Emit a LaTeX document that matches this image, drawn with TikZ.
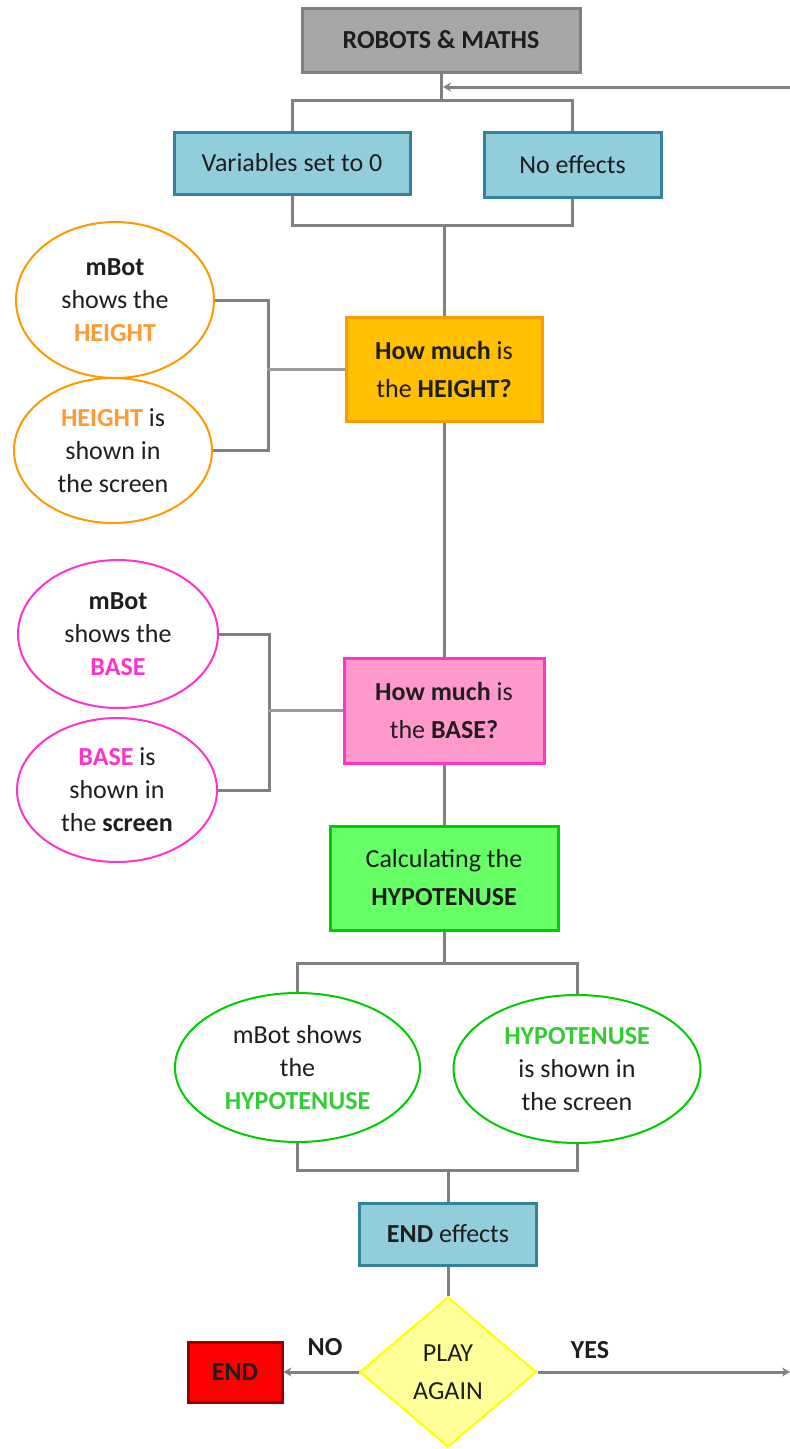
\documentclass[tikz,border=0pt]{standalone}
\usepackage{fontspec}
\setmainfont{Carlito}
\usetikzlibrary{shapes.geometric,arrows.meta}
\definecolor{lineg}{HTML}{808080}
\definecolor{stubg}{HTML}{9A9A9A}
\definecolor{txt}{HTML}{1E1E1E}
\definecolor{grayfill}{HTML}{A6A6A6}
\definecolor{graydraw}{HTML}{7F7F7F}
\definecolor{bluefill}{HTML}{92CDDC}
\definecolor{bluedraw}{HTML}{31849B}
\definecolor{hfill}{HTML}{FFC000}
\definecolor{hdraw}{HTML}{FF9900}
\definecolor{htext}{HTML}{FF9933}
\definecolor{bfill}{HTML}{FF99CC}
\definecolor{bdraw}{HTML}{FF33CC}
\definecolor{btext}{HTML}{FF33CC}
\definecolor{gfill}{HTML}{66FF66}
\definecolor{gdraw}{HTML}{00CC00}
\definecolor{gtext}{HTML}{33CC33}
\definecolor{yfill}{HTML}{FFFF99}
\definecolor{ydraw}{HTML}{FFFF00}
\definecolor{rfill}{HTML}{FF0000}
\definecolor{rdraw}{HTML}{990000}
\newcommand{\myboxfont}{\fontsize{26}{38}\selectfont}
\newcommand{\myellfont}{\fontsize{26}{33}\selectfont}
\begin{document}
\begin{tikzpicture}[x=1pt,y=-1pt,
  box/.style={draw, line width=3pt, align=center, inner sep=0pt, font=\myboxfont, text=txt},
  ell/.style={ellipse, draw, line width=2pt, align=center, inner sep=0pt, font=\myellfont, text=txt, fill=white},
  link/.style={draw=lineg, line width=3pt},
  stub/.style={draw=stubg, line width=3pt},
  arr/.style={draw=lineg, line width=3pt, -{Stealth[length=8pt,width=9pt]}},
  lbl/.style={font=\myboxfont\bfseries, text=txt, inner sep=0pt}]
\useasboundingbox (0,0) rectangle (790,1449);

% nodes
\node[box, fill=grayfill, draw=graydraw, minimum width=278pt, minimum height=64pt] (robots) at (441,40) {\textbf{ROBOTS \& MATHS}};
\node[box, fill=bluefill, draw=bluedraw, minimum width=236pt, minimum height=62pt] (vars) at (292,163) {Variables set to 0};
\node[box, fill=bluefill, draw=bluedraw, minimum width=177pt, minimum height=65pt] (noeff) at (572.5,164.5) {No effects};
\node[box, fill=hfill, draw=hdraw, minimum width=196pt, minimum height=104pt] (height) at (444,369) {\textbf{How much} is\\the \textbf{HEIGHT?}};
\node[ell, draw=hdraw, minimum width=198pt, minimum height=156pt] (h1) at (115,300) {\textbf{mBot}\\shows the\\\textcolor{htext}{\textbf{HEIGHT}}};
\node[ell, draw=hdraw, minimum width=198pt, minimum height=145pt] (h2) at (113,450.5) {\textcolor{htext}{\textbf{HEIGHT}} is\\shown in\\the screen};
\node[box, fill=bfill, draw=bdraw, minimum width=200pt, minimum height=105pt] (base) at (444,710.5) {\textbf{How much} is\\the \textbf{BASE?}};
\node[ell, draw=bdraw, minimum width=200pt, minimum height=148pt] (b1) at (118,634) {\textbf{mBot}\\shows the\\\textcolor{btext}{\textbf{BASE}}};
\node[ell, draw=bdraw, minimum width=200pt, minimum height=144pt] (b2) at (117,790) {\textcolor{btext}{\textbf{BASE}} is\\shown in\\the \textbf{screen}};
\node[box, fill=gfill, draw=gdraw, minimum width=228pt, minimum height=104pt] (hyp) at (444,878) {Calculating the\\\textbf{HYPOTENUSE}};
\node[ell, draw=gdraw, minimum width=245pt, minimum height=149pt] (g1) at (297.5,1067.5) {mBot shows\\the\\\textcolor{gtext}{\textbf{HYPOTENUSE}}};
\node[ell, draw=gdraw, minimum width=247pt, minimum height=148pt] (g2) at (577,1069) {\textcolor{gtext}{\textbf{HYPOTENUSE}}\\is shown in\\the screen};
\node[box, fill=bluefill, draw=bluedraw, minimum width=177pt, minimum height=62pt] (endeff) at (448,1234) {\textbf{END} effects};
\node[diamond, draw=ydraw, fill=yfill, line width=2pt, aspect=1.16, inner sep=0pt, minimum width=177pt, minimum height=150pt, align=center, font=\myboxfont, text=txt] (play) at (448,1372) {PLAY\\AGAIN};
\node[box, fill=rfill, draw=rdraw, minimum width=94pt, minimum height=60pt] (endbox) at (235,1372) {\textbf{END}};
\node[lbl] (no) at (325,1347) {NO};
\node[lbl] (yes) at (590,1350) {YES};

% coordinates
\coordinate (split1) at (441,100);
\coordinate (merge1) at (444,225);
\coordinate (hb) at (267,369);
\coordinate (bb) at (268,710.5);
\coordinate (split2) at (444,963);
\coordinate (merge2) at (448,1170);
\coordinate (retstart) at (790,87);
\coordinate (ret) at (443,87);
\coordinate (yesend) at (790,1372);

% connectors
\draw[link] (robots.south) -- (split1);
\draw[link] (vars.north) |- (split1) -| (noeff.north);
\draw[link] (vars.south) |- (merge1) -| (noeff.south);
\draw[link] (merge1) -- (height.north);
\draw[arr] (retstart) -- (ret);

\draw[link] (h1.east) -- ++(53,0) |- (h2.east);
\draw[stub] (height.west) -- (hb);
\draw[link] (height.south) -- (base.north);

\draw[link] (b1.east) -- ++(50,0) |- (b2.east);
\draw[stub] (base.west) -- (bb);
\draw[link] (base.south) -- (hyp.north);

\draw[link] (hyp.south) -- (split2);
\draw[link] (g1.north) |- (split2) -| (g2.north);
\draw[link] (g1.south) |- (merge2) -| (g2.south);
\draw[link] (merge2) -- (endeff.north);
\draw[link] (endeff.south) -- (play.north);

\draw[arr] (play.west) -- (endbox.east);
\draw[arr] (play.east) -- (yesend);
\end{tikzpicture}
\end{document}
